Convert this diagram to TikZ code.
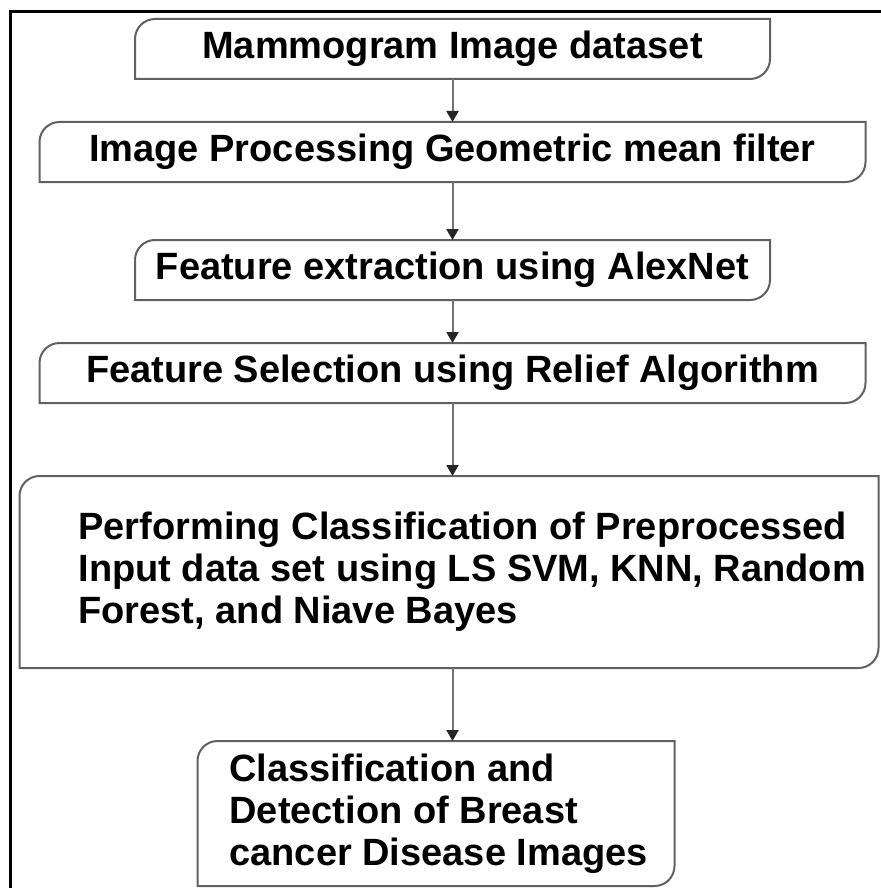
\documentclass[tikz,border=0pt]{standalone}
\usepackage{fontspec}
\setmainfont{Liberation Sans}
\usetikzlibrary{arrows.meta, positioning}

\begin{document}
\begin{tikzpicture}[font={\fontsize{38pt}{42pt}\selectfont\bfseries},
  box/.style={outer sep=0pt, inner sep=0pt, align=center, minimum height=60pt},
  boxline/.style={draw=black!62, line width=2pt},
  flow/.style={-{Triangle[length=11pt, width=12pt, color=black!85]}, draw=black!55, line width=2pt},
  frame/.style={draw=black, line width=3pt}]
\path[use as bounding box, fill=white] (0pt,0pt) rectangle (880pt,-888pt);
\node[box, minimum width=635pt] (mammo) at (452.5pt,-49pt) {Mammogram Image dataset};
\node[box, minimum width=826pt, below=43pt of mammo] (filter) {Image Processing Geometric mean filter};
\node[box, minimum width=635pt, below=58pt of filter] (alex) {Feature extraction using AlexNet};
\node[box, minimum width=826pt, below=43pt of alex] (relief) {Feature Selection using Relief Algorithm};
\node[box, text width=859pt, align=left, minimum height=192pt, execute at begin node={\leftskip=59pt\spaceskip=0pt}, below=73pt of relief, xshift=-3.5pt] (classify) {Performing Classification of Preprocessed\\Input data set using LS SVM, KNN, Random\\Forest, and Niave Bayes};
\node[box, text width=477pt, align=left, minimum height=145pt, execute at begin node={\leftskip=32pt\spaceskip=0pt}, below=73pt of classify, xshift=-13pt] (detect) {Classification and\\Detection of Breast\\cancer Disease Images};
% outlines: rounded top left and bottom right
\foreach \b in {mammo, filter, alex, relief, classify, detect}
  \draw[boxline] (\b.south west) -- ([yshift=-20pt]\b.north west) arc[start angle=180, end angle=90, radius=20pt]
    -- (\b.north east) -- ([yshift=20pt]\b.south east) arc[start angle=0, end angle=-90, radius=20pt] -- cycle;
\draw[flow] (mammo.south) -- (mammo.south |- filter.north);
\draw[flow] (filter.south) -- (filter.south |- alex.north);
\draw[flow] (alex.south) -- (alex.south |- relief.north);
\draw[flow] (relief.south) -- (relief.south |- classify.north);
\draw[flow] (relief.south |- classify.south) -- (relief.south |- detect.north);
% frame
\coordinate (fbl) at (10.5pt,-892pt);
\coordinate (ftl) at (10.5pt,-11.5pt);
\coordinate (ftr) at (884pt,-11.5pt);
\draw[frame] (fbl) -- (ftl) -- (ftr);
\end{tikzpicture}
\end{document}
